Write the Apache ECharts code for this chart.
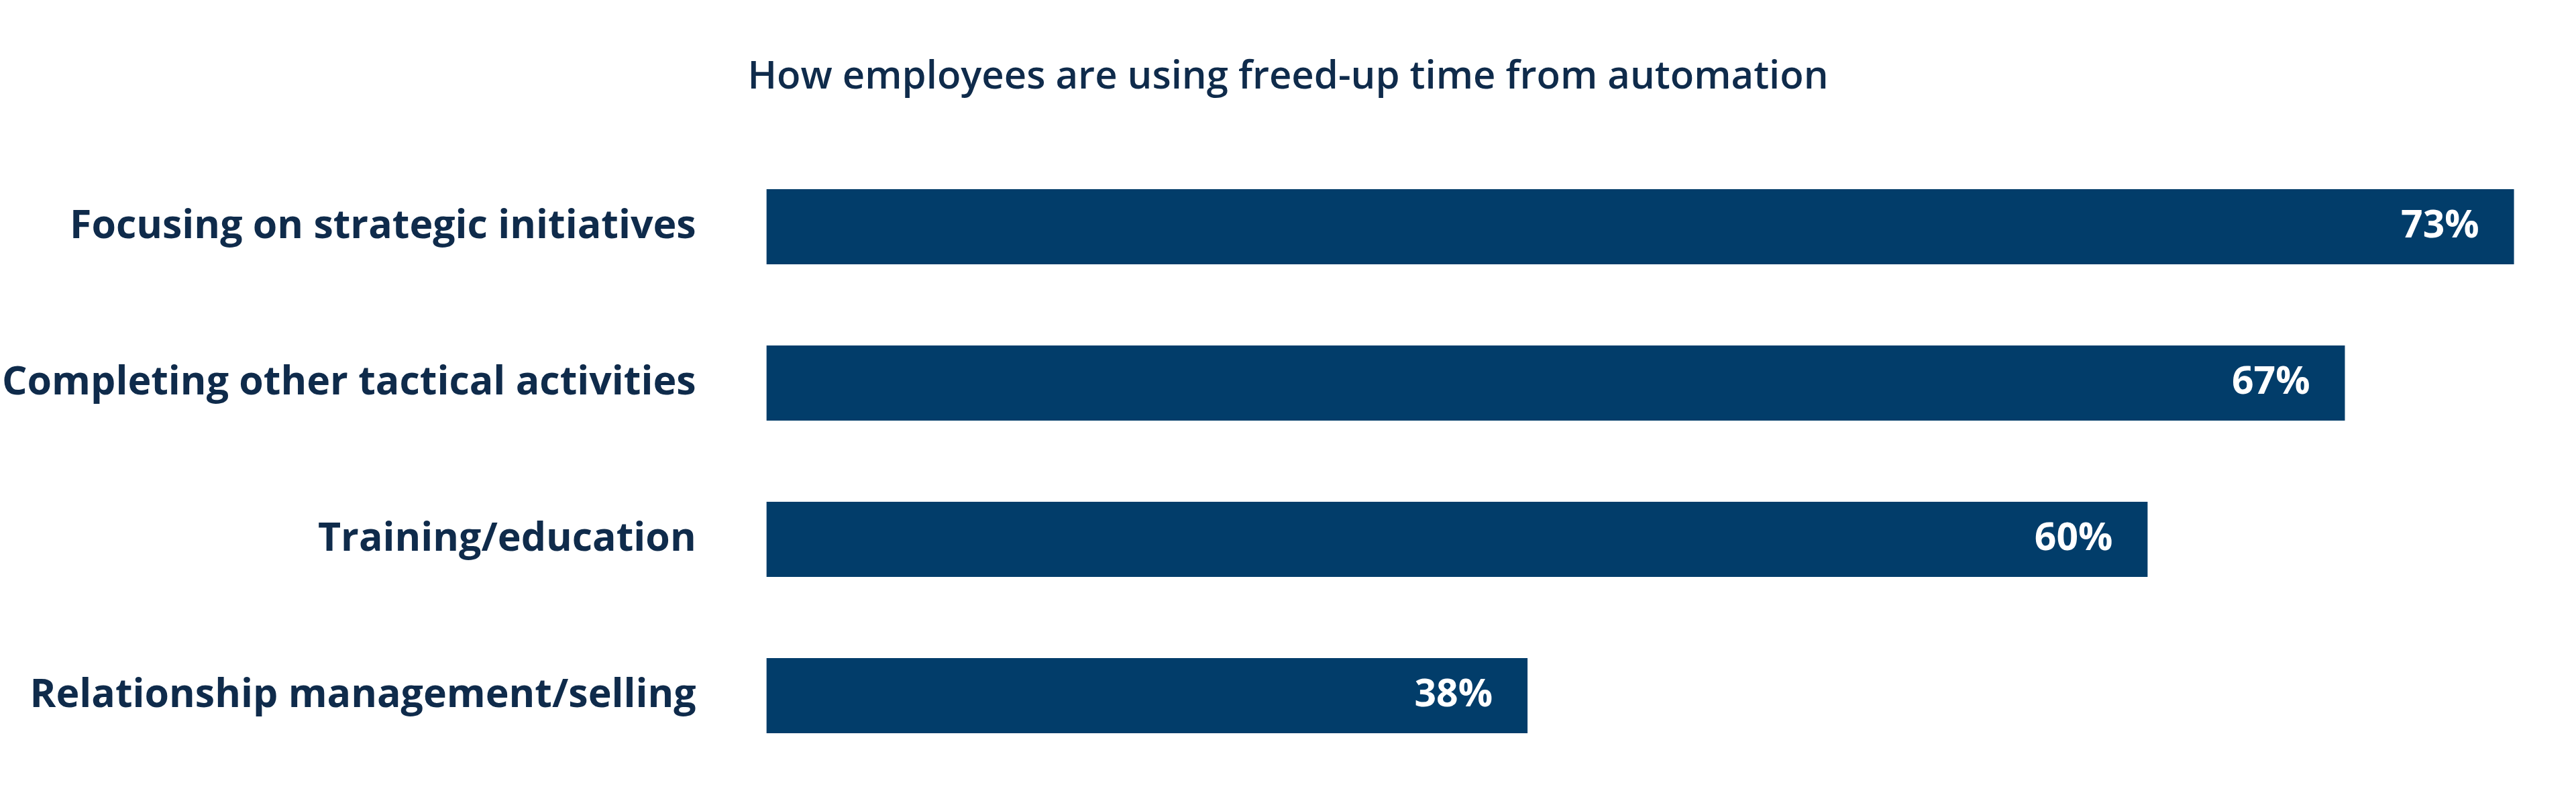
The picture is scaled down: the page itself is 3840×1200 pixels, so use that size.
<!DOCTYPE html>
<html>
<head>
<meta charset="utf-8">
<script src="https://cdn.jsdelivr.net/npm/echarts@6/dist/echarts.min.js"></script>
<style>html,body{margin:0;padding:0;background:#fff}#c{width:3840px;height:1200px}</style>
</head>
<body>
<div id="c"></div>
<script>
const title = 'How employees are using freed-up time from automation';
const categories = ['Focusing on strategic initiatives','Completing other tactical activities','Training/education','Relationship management/selling'];
const values = [73, 67, 60, 38];

const chart = echarts.init(document.getElementById('c'));
chart.setOption({
  backgroundColor: '#ffffff',
  animation: false,
  title: {
    text: title, left: 'center', top: 81,
    textStyle: {fontFamily: 'Open Sans', fontWeight: 600, fontSize: 58, color: '#0f2b4b'}
  },
  grid: {left: 1139, right: 0, top: 221.5, bottom: 46.5, containLabel: false},
  xAxis: {type: 'value', min: 11, max: 75.2, show: false},
  yAxis: {
    type: 'category', data: categories, inverse: true,
    axisLine: {show: false}, axisTick: {show: false},
    axisLabel: {margin: 105, fontFamily: 'Open Sans', fontWeight: 'bold', fontSize: 59, color: '#0f2b4b'}
  },
  series: [{
    type: 'bar', data: values, barWidth: 112,
    itemStyle: {color: '#023d6a'},
    label: {
      show: true, position: 'insideRight', distance: 52,
      formatter: p => p.value + '%',
      fontFamily: 'Open Sans', fontWeight: 'bold', fontSize: 57, color: '#ffffff'
    }
  }]
});
</script>
</body>
</html>
